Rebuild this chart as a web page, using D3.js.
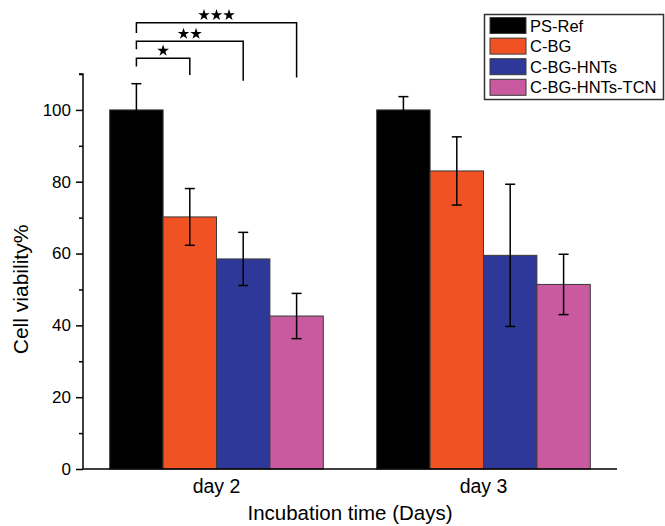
<!doctype html>
<html>
<head>
<meta charset="UTF-8" />
<script src="https://cdn.jsdelivr.net/npm/d3@7"></script>
<style>
  body { margin: 0; background: #fff; }
  text { font-family: "Liberation Sans", Arial, sans-serif; fill: #000; }
</style>
</head>
<body>
<svg id="chart" width="665" height="526"></svg>
<script>
(function () {
  "use strict";

  // data
  const days = ["day 2", "day 3"];
  const series = ["PS-Ref", "C-BG", "C-BG-HNTs", "C-BG-HNTs-TCN"];
  const colors = ["#000000", "#f05224", "#2e3898", "#c95aa0"];
  const day2Values = [100, 70.2, 58.5, 42.6];
  const day2Errors = [7.3, 7.9, 7.4, 6.3];
  const day3Values = [100, 83.0, 59.5, 51.4];
  const day3Errors = [3.7, 9.5, 19.8, 8.4];
  const yTicks = [0, 20, 40, 60, 80, 100];
  const yMinorTicks = [10, 30, 50, 70, 90, 110];

  // significance brackets on day 2 (compared with PS-Ref)
  const brackets = [
    { to: 1, y: 114.4, leftEnd: 112.1, rightEnd: 109.7, stars: 1 },
    { to: 2, y: 119.1, leftEnd: 116.9, rightEnd: 108.1, stars: 2 },
    { to: 3, y: 124.3, leftEnd: 121.4, rightEnd: 109.0, stars: 3 }
  ];

  const rows = [];
  days.forEach(function (day, i) {
    const vals = i === 0 ? day2Values : day3Values;
    const errs = i === 0 ? day2Errors : day3Errors;
    series.forEach(function (s, j) {
      rows.push({ day: day, series: s, value: vals[j], err: errs[j], idx: j });
    });
  });

  const svg = d3.select("#chart");
  const x0 = 83, x1 = 617, yBottom = 469, yTop = 74;

  const x = d3.scaleBand().domain(days).range([x0, x1]).paddingInner(0.2).paddingOuter(0.1);
  const xs = d3.scaleBand().domain(series).range([0, x.bandwidth()]);
  const y = d3.scaleLinear().domain([0, 110]).range([yBottom, yTop]);

  // bars
  svg.append("g").selectAll("rect")
    .data(rows)
    .enter().append("rect")
    .attr("x", function (d) { return x(d.day) + xs(d.series); })
    .attr("y", function (d) { return y(d.value); })
    .attr("width", xs.bandwidth())
    .attr("height", function (d) { return y(0) - y(d.value); })
    .attr("fill", function (d) { return colors[d.idx]; })
    .attr("stroke", "#3a3a3a")
    .attr("stroke-width", 1);

  // error bars
  const eb = svg.append("g").attr("stroke", "#000").attr("stroke-width", 1.5);
  rows.forEach(function (d) {
    const cx = x(d.day) + xs(d.series) + xs.bandwidth() / 2;
    eb.append("line").attr("x1", cx).attr("x2", cx)
      .attr("y1", y(d.value - d.err)).attr("y2", y(d.value + d.err));
    [d.value - d.err, d.value + d.err].forEach(function (v) {
      eb.append("line").attr("x1", cx - 5).attr("x2", cx + 5)
        .attr("y1", y(v)).attr("y2", y(v));
    });
  });

  // axes
  const yAxis = svg.append("g")
    .attr("transform", "translate(" + x0 + ",0)")
    .call(d3.axisLeft(y).tickValues(yTicks).tickSize(7).tickPadding(5).tickFormat(d3.format("d")));
  yAxis.selectAll(".tick text").attr("font-size", 17).attr("font-family", "Liberation Sans, Arial, sans-serif");
  yAxis.selectAll("line, path").attr("stroke", "#000").attr("stroke-width", 1.5);
  yAxis.select(".domain").attr("d", "M-4," + y(110) + "H0V" + y(0));

  const yMinor = svg.append("g")
    .attr("transform", "translate(" + x0 + ",0)")
    .call(d3.axisLeft(y).tickValues(yMinorTicks).tickSize(4).tickFormat(""));
  yMinor.select(".domain").remove();
  yMinor.selectAll("line").attr("stroke", "#000").attr("stroke-width", 1.5);

  const xAxis = svg.append("g")
    .attr("transform", "translate(0," + yBottom + ")")
    .call(d3.axisBottom(x).tickSize(0).tickPadding(10));
  xAxis.select(".domain").attr("d", "M" + x0 + ",0H" + x1).attr("stroke", "#000").attr("stroke-width", 1.5);
  xAxis.selectAll(".tick text").attr("font-size", 19.5).attr("font-family", "Liberation Sans, Arial, sans-serif");

  // axis titles
  svg.append("text")
    .attr("x", (x0 + x1) / 2).attr("y", 520)
    .attr("text-anchor", "middle").attr("font-size", 20.5)
    .text("Incubation time (Days)");
  svg.append("text")
    .attr("transform", "translate(28," + ((y(0) + y(100)) / 2) + ") rotate(-90)")
    .attr("text-anchor", "middle").attr("font-size", 21)
    .text("Cell viability%");

  // significance brackets
  const bg = svg.append("g");
  const cxOf = function (i) { return x(days[0]) + xs(series[i]) + xs.bandwidth() / 2; };
  const star = d3.symbol().type(d3.symbolStar).size(42);
  brackets.forEach(function (b) {
    const xa = cxOf(0), xb = cxOf(b.to);
    bg.append("path")
      .attr("d", "M" + xa + "," + y(b.leftEnd) + "V" + y(b.y) + "H" + xb + "V" + y(b.rightEnd))
      .attr("fill", "none").attr("stroke", "#000").attr("stroke-width", 1.5);
    const mid = (xa + xb) / 2;
    d3.range(b.stars).forEach(function (k) {
      bg.append("path")
        .attr("d", star)
        .attr("transform", "translate(" + (mid + (k - (b.stars - 1) / 2) * 12.5) + "," + (y(b.y) - 7.5) + ")")
        .attr("fill", "#000");
    });
  });

  // legend
  const lg = svg.append("g");
  lg.append("rect").attr("x", 484.5).attr("y", 14.5).attr("width", 179).attr("height", 85)
    .attr("fill", "#fff").attr("stroke", "#333").attr("stroke-width", 1.5);
  series.forEach(function (s, i) {
    const ry = 17.5 + i * 20.6;
    lg.append("rect").attr("x", 490).attr("y", ry).attr("width", 36).attr("height", 16)
      .attr("fill", colors[i]).attr("stroke", "#3a3a3a").attr("stroke-width", 1);
    lg.append("text").attr("x", 530).attr("y", ry + 14).attr("font-size", 16.5).text(s);
  });
})();
</script>
</body>
</html>
